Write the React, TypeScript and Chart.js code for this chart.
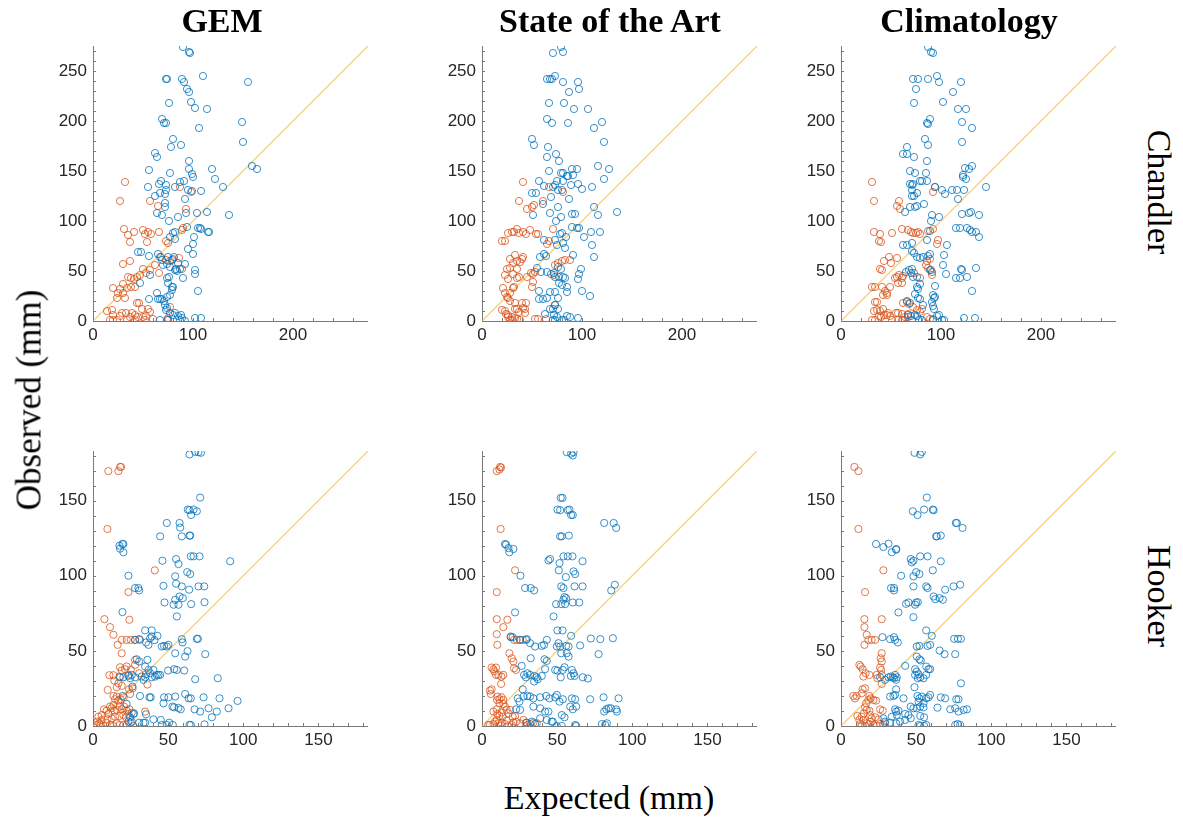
import React, { useEffect, useRef } from 'react';
import { Chart, registerables } from 'chart.js';
Chart.register(...registerables);

type P = [number, number];

const columnTitles = ['GEM', 'State of the Art', 'Climatology'];
const rowLabels = ['Chandler', 'Hooker'];
const xAxisLabel = 'Expected (mm)';
const yAxisLabel = 'Observed (mm)';

const chandlerMax = 275;
const hookerMax = 183;
const chandlerXTicks = [0, 100, 200];
const chandlerYTicks = [0, 50, 100, 150, 200, 250];
const hookerXTicks = [0, 50, 100, 150];
const hookerYTicks = [0, 50, 100, 150];

const chandlerGemBlue: P[] = [[90,274],[96,269],[97,268],[110,245],[155,239],[73,242],[74,242],[89,242],[91,239],[94,232],[96,229],[76,218],[98,219],[102,213],[114,212],[69,202],[71,198],[73,198],[106,193],[149,199],[150,179],[80,182],[78,174],[88,176],[62,168],[64,164],[96,160],[56,151],[96,152],[99,147],[100,144],[119,152],[159,155],[164,152],[122,142],[77,148],[68,140],[66,137],[87,139],[91,140],[55,134],[73,136],[73,131],[72,127],[82,134],[130,134],[95,131],[99,130],[108,130],[62,125],[67,128],[92,122],[72,118],[72,114],[64,108],[69,106],[76,100],[85,104],[93,108],[104,108],[114,109],[136,106],[94,94],[105,93],[107,93],[108,92],[115,89],[116,89],[80,88],[82,89],[77,84],[82,82],[101,84],[100,77],[100,67],[95,72],[65,67],[45,69],[48,69],[56,65],[67,64],[69,61],[70,56],[75,64],[79,61],[81,64],[74,57],[77,54],[82,51],[85,58],[92,57],[102,51],[102,47],[83,52],[84,50],[87,52],[90,43],[74,43],[76,44],[47,38],[57,46],[105,30],[79,34],[80,34],[79,31],[77,26],[74,24],[64,28],[65,22],[67,22],[69,22],[71,20],[56,22],[72,16],[74,13],[77,8],[80,6],[82,8],[85,5],[88,6],[89,3],[67,1],[75,1],[87,1],[92,0],[102,3],[108,3],[73,11],[75,38]];
const chandlerGemOrange: P[] = [[32,139],[27,120],[57,120],[65,115],[93,112],[87,134],[98,129],[31,92],[35,86],[37,79],[41,89],[50,91],[52,87],[55,89],[58,87],[54,79],[66,89],[89,91],[90,93],[73,80],[75,78],[30,57],[37,60],[68,64],[73,61],[77,60],[80,62],[86,63],[62,56],[66,48],[50,52],[57,51],[53,48],[89,52],[47,46],[44,44],[41,42],[38,43],[35,44],[30,37],[34,33],[38,34],[42,34],[27,32],[25,28],[24,23],[20,33],[30,28],[32,23],[46,18],[44,18],[49,12],[14,10],[19,11],[29,8],[33,8],[39,8],[55,12],[57,9],[17,1],[20,1],[24,1],[34,1],[42,1],[52,1],[60,2],[74,1],[75,3],[20,6],[27,5],[42,6],[50,4],[53,5],[37,4],[45,4],[77,14]];

const chandlerSotaBlue: P[] = [[79,274],[71,268],[81,269],[73,245],[65,242],[68,242],[70,242],[81,239],[96,239],[97,232],[87,229],[67,218],[82,218],[92,212],[106,212],[65,202],[70,198],[86,198],[120,199],[112,193],[50,182],[52,176],[66,174],[65,164],[74,167],[77,160],[122,179],[67,150],[79,148],[81,148],[85,145],[90,152],[95,152],[91,146],[116,155],[127,152],[122,142],[57,140],[75,140],[73,136],[71,134],[81,140],[86,145],[62,135],[89,136],[96,137],[100,132],[110,134],[76,131],[80,131],[69,124],[50,128],[54,128],[61,117],[76,114],[87,122],[68,108],[51,106],[90,107],[93,107],[112,114],[116,106],[135,109],[74,100],[79,104],[90,94],[95,93],[97,93],[109,89],[118,89],[102,84],[110,76],[112,64],[62,81],[73,81],[75,76],[78,87],[80,88],[81,78],[84,84],[83,73],[91,66],[99,52],[97,47],[96,42],[58,64],[62,67],[64,65],[55,53],[59,49],[65,49],[69,47],[72,48],[76,54],[79,52],[73,44],[77,44],[81,44],[83,43],[77,38],[80,36],[85,34],[57,30],[68,29],[73,29],[85,29],[100,30],[108,25],[57,22],[61,22],[65,23],[76,23],[73,16],[68,12],[71,12],[76,12],[63,7],[72,6],[75,4],[85,5],[88,4],[96,3],[71,1],[73,1],[80,1],[82,1]];
const chandlerSotaOrange: P[] = [[41,139],[37,120],[45,112],[50,114],[52,116],[61,120],[67,134],[81,129],[20,80],[23,80],[26,88],[30,89],[32,89],[35,92],[37,88],[41,89],[44,87],[48,91],[54,87],[56,87],[71,92],[67,80],[65,77],[33,66],[28,62],[31,58],[35,60],[40,62],[41,64],[38,59],[25,52],[28,53],[31,47],[35,52],[23,46],[26,42],[35,43],[37,44],[45,44],[49,48],[51,47],[53,49],[50,34],[51,39],[73,56],[76,58],[80,60],[83,61],[88,61],[72,46],[21,33],[23,28],[28,28],[31,33],[32,34],[25,24],[26,23],[28,20],[33,18],[40,18],[44,18],[41,13],[43,12],[33,12],[35,12],[37,9],[20,11],[23,10],[24,7],[26,6],[26,4],[30,4],[33,3],[35,2],[38,1],[28,1],[30,1],[43,8],[53,2],[56,2],[64,2],[73,16]];

const chandlerClimBlue: P[] = [[87,274],[90,269],[92,268],[72,242],[77,242],[87,242],[96,245],[98,239],[120,239],[112,229],[75,232],[73,218],[102,219],[117,212],[125,212],[89,202],[86,198],[87,197],[121,199],[131,193],[84,182],[87,176],[121,179],[66,174],[62,167],[66,167],[73,164],[86,160],[69,150],[74,148],[85,148],[69,137],[71,136],[72,137],[71,131],[71,125],[73,125],[76,128],[69,114],[79,140],[81,140],[86,140],[74,114],[76,115],[83,117],[64,109],[94,134],[101,131],[104,127],[111,131],[116,131],[117,122],[123,131],[122,144],[122,146],[124,153],[128,152],[125,142],[131,155],[91,106],[90,100],[98,104],[121,107],[128,108],[130,109],[138,106],[145,134],[115,93],[119,93],[126,93],[129,91],[131,89],[135,89],[138,84],[89,90],[86,81],[106,76],[103,66],[102,56],[105,47],[62,76],[66,76],[71,78],[71,70],[73,68],[76,64],[79,63],[82,64],[87,65],[89,67],[65,49],[68,51],[71,52],[70,48],[72,44],[76,44],[89,51],[91,49],[120,52],[121,51],[115,43],[119,43],[126,44],[135,53],[131,30],[79,37],[76,34],[77,32],[94,35],[74,27],[77,23],[79,22],[92,26],[94,24],[93,23],[91,19],[92,15],[93,12],[82,16],[66,20],[69,18],[67,6],[70,5],[74,6],[76,5],[96,5],[98,6],[123,3],[134,3],[71,1],[78,1],[81,1],[92,1],[101,1],[103,1]];
const chandlerClimOrange: P[] = [[31,139],[33,120],[56,115],[58,120],[59,112],[94,134],[92,129],[33,89],[39,87],[40,79],[38,80],[51,88],[61,92],[67,91],[70,89],[72,88],[75,88],[77,89],[79,87],[87,90],[92,92],[97,81],[96,77],[43,60],[48,64],[50,58],[56,63],[39,52],[41,51],[54,43],[56,44],[58,46],[61,43],[62,45],[57,38],[61,38],[73,48],[86,60],[89,62],[85,56],[87,53],[90,51],[91,46],[79,43],[31,34],[34,34],[41,34],[49,34],[44,30],[46,28],[42,26],[46,26],[34,19],[36,19],[36,11],[33,10],[39,10],[42,12],[43,6],[46,6],[47,8],[38,5],[40,4],[55,8],[57,8],[61,7],[62,18],[66,19],[68,17],[72,14],[76,11],[79,9],[81,12],[31,1],[34,1],[51,1],[57,1],[61,1],[62,1],[49,5],[64,4],[67,4],[67,7],[86,4],[89,2],[92,2]];

const hookerGemBlue: P[] = [[64.2,180.7],[68,182.4],[70.2,182.2],[71.8,181.8],[71.3,152],[63.1,144],[64.2,143.6],[66.9,144],[69.1,142.9],[65.3,140.4],[49.1,135.1],[57.6,135.1],[58,132],[44.7,126.2],[59.1,126.2],[64.2,126.7],[64.7,126.7],[17.6,120],[18,118],[19.6,121.1],[20.2,121.1],[20.2,115.6],[65.1,112.9],[66.9,112.9],[70.9,112.9],[55.3,111.1],[56.9,107.8],[46.2,110],[91.3,109.6],[62.7,102.4],[64.7,101.1],[23.6,100],[54.7,99.6],[55.3,94.7],[46.9,93.3],[28,91.8],[30.2,91.8],[30.7,90.2],[59.1,92.9],[64,90.7],[70.2,92.9],[74,92.9],[47.6,82.2],[54.7,84],[53.6,80.7],[56.9,80.7],[57.6,86.2],[59.8,85.1],[65.3,81.1],[74.2,82.4],[55.8,72.9],[19.6,75.8],[34.7,63.6],[39.1,63.6],[42.9,60],[39.1,59.6],[38,58.4],[40.9,57.1],[35.3,55.6],[36.9,54],[30.7,57.8],[28,57.3],[45.8,52.9],[47.3,53.3],[49.1,52.9],[50.2,54],[54.7,48.4],[59.1,57.8],[59.6,55.6],[62.9,49.8],[61.3,46.2],[69.1,58],[69.8,58],[74.7,47.8],[36.2,44],[34.7,39.6],[36.9,37.3],[38,35.1],[40.2,37.3],[41.3,32.9],[42.4,34],[39.1,32.4],[34.7,32.4],[32.4,32.9],[33.6,30.7],[44.7,34],[43.6,34],[29.1,44.4],[30.7,42.9],[50,36.9],[54,37.8],[55.8,37.3],[60.7,36.9],[68,31.1],[83,31.8],[18,32.4],[20.2,32.4],[23.6,33.3],[24.7,31.8],[25.8,34],[28,32.4],[26.2,26.2],[31.3,20],[37.6,19.1],[38.4,19.1],[47.3,19.1],[50.2,19.1],[46.9,15.1],[54.7,19.6],[61.3,21.3],[63.6,18.4],[65.1,18.4],[73.6,19.1],[84.2,18.4],[96.2,16.7],[90.2,11.8],[76.9,11.8],[67.6,11.1],[71.3,9.6],[52.9,12.9],[54,12.4],[56.9,12],[58.4,11.1],[82.4,9.6],[79.1,5.8],[19.8,20],[22.4,14.7],[35.3,7.8],[26.9,8],[24.7,5.8],[40.2,4.4],[45.1,4],[30.7,2.2],[33.6,2.2],[34.7,2.2],[45.8,0.7],[49.1,0.7],[50.7,2.2],[53.1,0.7],[64.2,0.7],[65.1,0.7],[74.2,1.1],[23.6,2.9],[25.8,2.9],[27.3,8.4]];
const hookerGemOrange: P[] = [[10.2,169.6],[16.9,169.6],[18,172.4],[18.7,172.4],[9.6,131.1],[23.6,89.1],[41.1,103.6],[7.6,71.1],[24.2,70.7],[11.3,65.8],[13.6,60.7],[19.1,57.3],[22.4,57.3],[25.1,57.3],[28,57.3],[31.3,57.3],[16.4,54],[19.1,48.4],[9.8,24],[18,39.1],[19.1,36.9],[21.3,37.8],[22.4,39.6],[25.1,37.3],[23.6,34],[28,44],[28,40.7],[30.7,35.1],[10.9,33.8],[13.6,33.8],[14.2,30.2],[17.6,32.9],[16.9,28.4],[15.8,25.8],[19.1,26.7],[24,24.4],[24.7,21.3],[26.4,25.1],[35.3,34.4],[36.2,27.6],[13.6,20],[14.7,17.8],[15.8,19.6],[16.9,16.9],[18.4,17.8],[20.4,19.1],[11.3,12.9],[12.4,11.8],[13.6,14],[14.2,10.2],[15.8,10.7],[17.6,12.9],[9.1,10.2],[10.2,8],[7.3,11.1],[19.1,11.1],[20.7,12.9],[22.4,10.2],[24.2,11.1],[25.8,8.9],[2,0.7],[2.9,2.9],[4.2,1.8],[5.1,0.7],[5.8,4],[6.9,0],[8.7,2.2],[9.6,4.4],[11.3,0.7],[13.6,0],[15.8,1.8],[17.6,0.7],[20.2,0.7],[22.4,0.7],[25.1,2.2],[26.9,0],[17.6,6.7],[20.2,7.3],[22,5.8],[23.6,8],[12.4,5.1],[14.7,6.2],[34.7,9.6],[3.6,6.2],[5.8,7.3]];

const hookerSotaBlue: P[] = [[56.4,182.2],[59.3,181.3],[60.4,180],[60.9,182.2],[52.4,151.8],[53.6,151.8],[50.2,144],[52,143.6],[57.1,143.6],[58.2,144],[59.3,140.4],[60.4,140.4],[81.3,135.1],[87.6,135.1],[89.3,131.8],[52,126.2],[53.1,126.2],[57.8,126.7],[15.3,121.1],[16,120.7],[17.6,118.4],[20.9,117.8],[18.2,115.6],[44.2,110.2],[45.3,111.1],[54.2,112.9],[57.1,112.9],[60.2,112.9],[66.9,109.6],[51.6,108.4],[51.1,103.6],[60.9,102.9],[62,101.1],[55.8,99.1],[25.6,100],[52.7,92.9],[54.2,91.8],[61.6,92.9],[66.9,92.9],[28.7,91.8],[32.4,91.8],[34.7,90.2],[88.4,94],[86,90.2],[49.3,81.1],[52.7,81.1],[54.2,84],[54.9,85.8],[56,85.1],[55.3,81.1],[60.4,82.2],[64.7,82.2],[47.6,72.9],[22,75.6],[50.2,63.6],[53.6,63.6],[59.3,60],[72.4,58.2],[78.7,57.8],[87.1,58.4],[77.6,47.8],[19.1,59.1],[20.4,59.1],[25.3,57.3],[29.3,57.3],[29.8,57.8],[32,55.1],[35.3,52.9],[39.8,53.3],[41.3,54],[43.1,57.3],[50.9,55.1],[52,52.9],[56,53.3],[57.6,52.9],[65.3,53.6],[52.7,48.4],[56.4,48.4],[57.6,46.2],[49.8,52.9],[32.4,45.1],[41.6,44.4],[43.1,43.3],[26.4,40],[42,37.8],[39.8,33.3],[48.7,37.3],[50.2,36.9],[54.9,39.1],[52.4,32.4],[53.8,37.3],[59.8,37.3],[60.9,35.1],[59.1,33.3],[61.6,33.3],[67.1,32.4],[70.4,31.6],[28,34],[29.3,32.4],[30.2,35.1],[32,34],[34.9,33.3],[36.4,32.4],[37.1,31.1],[34.7,29.6],[27.1,24.4],[23.8,18.4],[24.9,16.2],[27.6,19.6],[30.2,20],[32,19.6],[34.2,18.4],[38.7,19.1],[42.7,20],[44.9,18.4],[49.8,20.7],[48.7,19.1],[51.6,16.2],[53.8,17.8],[58.7,12.9],[59.8,18.4],[62,17.8],[62.7,12.9],[60.4,11.1],[72,17.8],[80.9,19.1],[90.9,18.4],[82.7,11.1],[84.2,11.8],[85.8,11.8],[89.3,11.1],[89.8,9.6],[81.3,9.6],[22.7,11.1],[25.3,10.7],[34.2,12.9],[38.7,11.8],[42,9.6],[44.2,9.6],[53.1,7.3],[54.9,5.8],[38.7,5.1],[43.1,4],[46.4,2.9],[47.1,2.9],[49.8,0],[53.1,0],[62,0.7],[62.7,0],[79.8,1.3],[82,0.7],[83.1,1.8],[33.1,2.9],[35.3,1.3],[29.8,2.2]];
const hookerSotaOrange: P[] = [[9.8,169.6],[11.6,170.7],[12,172.4],[12.7,172],[12.4,131.1],[22,103.6],[9.8,89.1],[9.8,71.1],[9.8,61.1],[10.2,54],[14.2,65.8],[16.9,70.7],[19.1,59.6],[21.3,57.3],[23.1,57.3],[25.3,57.3],[27.1,57.3],[18.2,48.4],[19.8,45.1],[20.9,42.9],[21.3,38.4],[22.7,37.3],[6.4,38.9],[7.6,37.8],[8.2,36.4],[9.3,38.9],[9.3,34],[10.9,34],[12.7,28],[14.2,34],[12.9,32.9],[5.3,23.6],[6.4,24.4],[5.8,21.3],[10.4,19.6],[11.6,17.8],[12.9,19.1],[14.2,17.3],[11.6,15.1],[10,17.3],[14.2,14.7],[15.3,12.9],[16.4,10.7],[18.7,10.7],[17.6,8.4],[7.6,9.6],[9.8,11.1],[10.2,8],[11.6,6.7],[13.1,8.9],[13.8,6.2],[4.2,0.7],[5.3,0.7],[7.6,1.3],[8.7,2.9],[9.8,4],[10.9,1.8],[12,0],[13.1,2.2],[15.3,1.3],[16.4,3.6],[17.6,0],[19.8,0.7],[20.9,2.2],[22.7,2.9],[25.3,1.8],[27.6,4],[29.3,2.2],[30.2,0.7],[32,1.3],[34.2,2.2],[36.4,1.8],[20.4,6.2],[22,6.7]];

const hookerClimBlue: P[] = [[48.9,181.8],[52.7,180.7],[53.8,182.4],[57.1,152],[47.8,142.9],[50.9,140.4],[55.3,144],[61.1,144],[61.6,143.6],[76.4,135.1],[77.1,135.1],[80.9,131.8],[63.3,126.2],[63.8,126.2],[66.4,126.7],[23.3,121.1],[28.2,119.1],[31.6,121.3],[36.7,117.8],[33.8,115.6],[36.7,117.3],[46.4,111.1],[47.1,108.9],[48.2,110],[52.7,112.9],[57.6,112.9],[66.4,109.6],[50,102.4],[52.2,101.1],[61.1,103.6],[40,100],[48.2,99.6],[33.3,91.8],[35.3,91.8],[35.3,90.2],[48.2,92.9],[56.7,92.9],[57.6,91.8],[69.3,90.7],[74.9,92.9],[79.3,94],[38.2,75.6],[48.2,72.4],[43.3,81.3],[44.9,82.2],[50,82.2],[51.1,82.4],[49.3,80.7],[61.6,86.2],[62.7,84.4],[65.6,85.1],[67.8,84],[56.7,63.6],[60.4,60],[27.6,59.1],[32.7,57.8],[35.3,59.1],[36,57.3],[37.8,55.6],[50.4,52.9],[52.2,53.3],[57.6,53.3],[59.3,54],[65.6,50.2],[68.9,47.8],[75.3,58],[77.8,58],[79.8,58],[76,47.8],[42.7,40],[50.4,46.2],[52.2,44.4],[53.1,43.6],[49.3,37.8],[50.4,36.2],[51.6,34.4],[49.3,34],[52.7,32.4],[51.1,31.8],[54.9,31.8],[56.7,39.6],[58.2,37.8],[59.3,37.8],[56.7,34],[33.1,32.9],[34.4,32.4],[35.3,31.8],[36,34],[37.1,32.4],[36.7,30.7],[31.6,32.4],[29.3,30.7],[36.7,24.4],[26,32.4],[48.9,25.8],[32.7,19.6],[34.9,20],[36,20.7],[41.6,18.4],[50.9,20],[52.2,18.4],[53.8,19.6],[56.7,18.4],[58.2,19.1],[59.3,20.7],[54.9,15.1],[51.6,16.2],[66.4,19.1],[69.3,18.4],[76.7,17.8],[78.2,17.8],[79.8,28.4],[64.2,12.2],[72.7,11.1],[76,11.8],[78.2,9.6],[81.6,10.7],[83.8,11.1],[46.4,12.9],[48.2,11.8],[50.4,11.8],[52.7,12.9],[54.9,12.4],[36,11.1],[36.7,9.6],[38.2,10.2],[33.8,6.2],[37.1,7.3],[42.7,8],[44.9,7.3],[52.7,6.7],[55.3,5.8],[32.7,2.2],[36.7,1.8],[39.3,2.9],[42.7,4],[46.4,5.1],[51.6,0.7],[52.7,0],[55.3,0],[56.7,0.7],[76,0.7],[77.6,1.3],[79.3,0.7],[29.3,2.9],[28.2,5.1]];
const hookerClimOrange: P[] = [[8.9,172.4],[11.6,169.6],[11.6,131.1],[28.2,103.6],[16,89.1],[15.6,71.1],[15.6,65.8],[17.1,60.7],[15.6,54],[27.1,71.1],[18.2,57.3],[20.4,57.3],[22.7,57.3],[27.1,48.4],[26.4,45.1],[27.1,42.9],[26,38.9],[26.7,37.3],[12.2,40.7],[13.1,39.6],[14.4,37.8],[14.9,32.9],[16.4,35.1],[18.9,34],[23.8,34],[24.2,31.8],[27.1,34],[27.1,28],[14.4,24.4],[16,25.1],[13.8,21.8],[8.2,20],[9.3,18.4],[10.4,20],[18.9,20],[19.8,18.4],[18.2,17.3],[16.7,15.1],[21.6,17.3],[23.3,16.9],[16,12.4],[17.1,10.7],[18.9,10.2],[15.3,8.4],[19.3,7.3],[26,11.1],[27.8,10.2],[13.8,6.2],[14.9,3.6],[12.2,4],[10.9,6.7],[12.7,1.3],[13.8,0.7],[16,0],[17.1,1.8],[18.9,1.3],[19.8,2.9],[21.6,0.7],[23.8,0],[26,1.3],[27.8,0],[29.3,1.8],[20.4,5.1],[22.7,5.8],[24.9,4.4]];

const BLUE = 'rgba(0,114,189,0.78)';
const ORANGE = 'rgba(217,83,25,0.78)';
const DIAG = 'rgba(237,177,32,0.55)';
const AXIS = '#7a7a7a';
const TICK_TEXT = '#262626';

const PLOT = 275;
const LEFT_W = 50;
const TOP_PAD = 24;
const RIGHT_PAD = 15;
const BOTTOM_H = 30;

const axesPlugin = {
  id: 'matlabAxes',
  beforeDatasetsDraw(chart: any, _args: any, opts: any) {
    const { ctx, chartArea, scales } = chart;
    const { left, right, top, bottom } = chartArea;
    const x = scales.x, y = scales.y;
    ctx.save();
    ctx.strokeStyle = AXIS;
    ctx.lineWidth = 1;
    ctx.beginPath();
    ctx.moveTo(left + 0.5, top);
    ctx.lineTo(left + 0.5, bottom + 0.5);
    ctx.lineTo(right, bottom + 0.5);
    const len = 3;
    for (let v = 0; v <= opts.max + 1e-6; v += opts.xMinor) {
      const px = Math.round(x.getPixelForValue(v)) + 0.5;
      ctx.moveTo(px, bottom);
      ctx.lineTo(px, bottom - len);
    }
    for (let v = 0; v <= opts.max + 1e-6; v += opts.yMinor) {
      const py = Math.round(y.getPixelForValue(v)) + 0.5;
      ctx.moveTo(left, py);
      ctx.lineTo(left + len, py);
    }
    ctx.stroke();
    ctx.restore();
  },
};

type PanelProps = {
  blue: P[];
  orange: P[];
  max: number;
  xTicks: number[];
  yTicks: number[];
  xMinor: number;
  yMinor: number;
  plotLeft: number;
  plotTop: number;
};

function Panel(props: PanelProps) {
  const ref = useRef<HTMLCanvasElement | null>(null);
  const { blue, orange, max, xTicks, yTicks, xMinor, yMinor, plotLeft, plotTop } = props;
  const width = LEFT_W + PLOT + RIGHT_PAD;
  const height = TOP_PAD + PLOT + BOTTOM_H;
  useEffect(() => {
    if (!ref.current) return;
    const tickFont = { family: '"Liberation Sans", Arial, sans-serif', size: 17 };
    const chart = new Chart(ref.current, {
      type: 'scatter',
      data: {
        datasets: [
          {
            data: blue.map(([x, y]) => ({ x, y })),
            borderColor: BLUE,
            backgroundColor: 'rgba(0,0,0,0)',
            pointRadius: 3.6,
            pointHoverRadius: 3.6,
            pointBorderWidth: 1,
          },
          {
            data: orange.map(([x, y]) => ({ x, y })),
            borderColor: ORANGE,
            backgroundColor: 'rgba(0,0,0,0)',
            pointRadius: 3.6,
            pointHoverRadius: 3.6,
            pointBorderWidth: 1,
          },
          {
            type: 'line',
            data: [{ x: 0, y: 0 }, { x: max, y: max }],
            borderColor: DIAG,
            borderWidth: 1.5,
            pointRadius: 0,
            fill: false,
          } as any,
        ],
      },
      options: {
        responsive: false,
        animation: false,
        devicePixelRatio: 1,
        events: [],
        layout: { autoPadding: false, padding: { top: TOP_PAD, right: RIGHT_PAD, left: 0, bottom: 0 } },
        plugins: {
          legend: { display: false },
          tooltip: { enabled: false },
          matlabAxes: { max, xMinor, yMinor },
        } as any,
        scales: {
          x: {
            type: 'linear',
            min: 0,
            max,
            grid: { display: false, drawTicks: false },
            border: { display: false },
            ticks: { font: tickFont, color: TICK_TEXT, padding: 4, maxRotation: 0, autoSkip: false, includeBounds: false },
            afterBuildTicks: (s: any) => { s.ticks = xTicks.map((v) => ({ value: v })); },
            afterFit: (s: any) => { s.height = BOTTOM_H; },
          },
          y: {
            type: 'linear',
            min: 0,
            max,
            grid: { display: false, drawTicks: false },
            border: { display: false },
            ticks: { font: tickFont, color: TICK_TEXT, padding: 6, autoSkip: false, includeBounds: false },
            afterBuildTicks: (s: any) => { s.ticks = yTicks.map((v) => ({ value: v })); },
            afterFit: (s: any) => { s.width = LEFT_W; },
          },
        } as any,
      },
      plugins: [axesPlugin],
    } as any);
    return () => chart.destroy();
  }, []);
  return (
    <canvas
      ref={ref}
      width={width}
      height={height}
      style={{ position: 'absolute', left: plotLeft - LEFT_W, top: plotTop - TOP_PAD, width, height, display: 'block' }}
    />
  );
}

const serif = '"Liberation Serif", "Times New Roman", serif';

export default function App() {
  const colLefts = [93, 482, 841];
  const rowTops = [46, 451];
  const titleCenters = [222, 610, 969];
  const rows = [
    { max: chandlerMax, xTicks: chandlerXTicks, yTicks: chandlerYTicks, xMinor: 20, yMinor: 10, sets: [[chandlerGemBlue, chandlerGemOrange], [chandlerSotaBlue, chandlerSotaOrange], [chandlerClimBlue, chandlerClimOrange]] },
    { max: hookerMax, xTicks: hookerXTicks, yTicks: hookerYTicks, xMinor: 10, yMinor: 10, sets: [[hookerGemBlue, hookerGemOrange], [hookerSotaBlue, hookerSotaOrange], [hookerClimBlue, hookerClimOrange]] },
  ];
  const rowLabelCenters = [192, 596];
  return (
    <div style={{ position: 'absolute', left: 0, top: 0, width: 1183, height: 817, background: '#fff', overflow: 'hidden' }}>
      {rows.map((r, ri) =>
        r.sets.map((s, ci) => (
          <Panel
            key={`${ri}-${ci}`}
            blue={s[0] as P[]}
            orange={s[1] as P[]}
            max={r.max}
            xTicks={r.xTicks}
            yTicks={r.yTicks}
            xMinor={r.xMinor}
            yMinor={r.yMinor}
            plotLeft={colLefts[ci]}
            plotTop={rowTops[ri]}
          />
        ))
      )}
      {columnTitles.map((t, i) => (
        <div key={t} style={{ position: 'absolute', left: titleCenters[i], top: 4, transform: 'translateX(-50%)', font: `bold 34px ${serif}`, lineHeight: '1', whiteSpace: 'nowrap', color: '#000' }}>{t}</div>
      ))}
      {rowLabels.map((t, i) => (
        <div key={t} style={{ position: 'absolute', left: 1159, top: rowLabelCenters[i], transform: 'translate(-50%,-50%) rotate(90deg)', font: `34px ${serif}`, lineHeight: '1', whiteSpace: 'nowrap', color: '#000' }}>{t}</div>
      ))}
      <div style={{ position: 'absolute', left: 29, top: 400, transform: 'translate(-50%,-50%) rotate(-90deg)', font: `35px ${serif}`, lineHeight: '1', whiteSpace: 'nowrap', color: '#000' }}>{yAxisLabel}</div>
      <div style={{ position: 'absolute', left: 609, top: 798, transform: 'translate(-50%,-50%)', font: `34px ${serif}`, lineHeight: '1', whiteSpace: 'nowrap', color: '#000' }}>{xAxisLabel}</div>
    </div>
  );
}
